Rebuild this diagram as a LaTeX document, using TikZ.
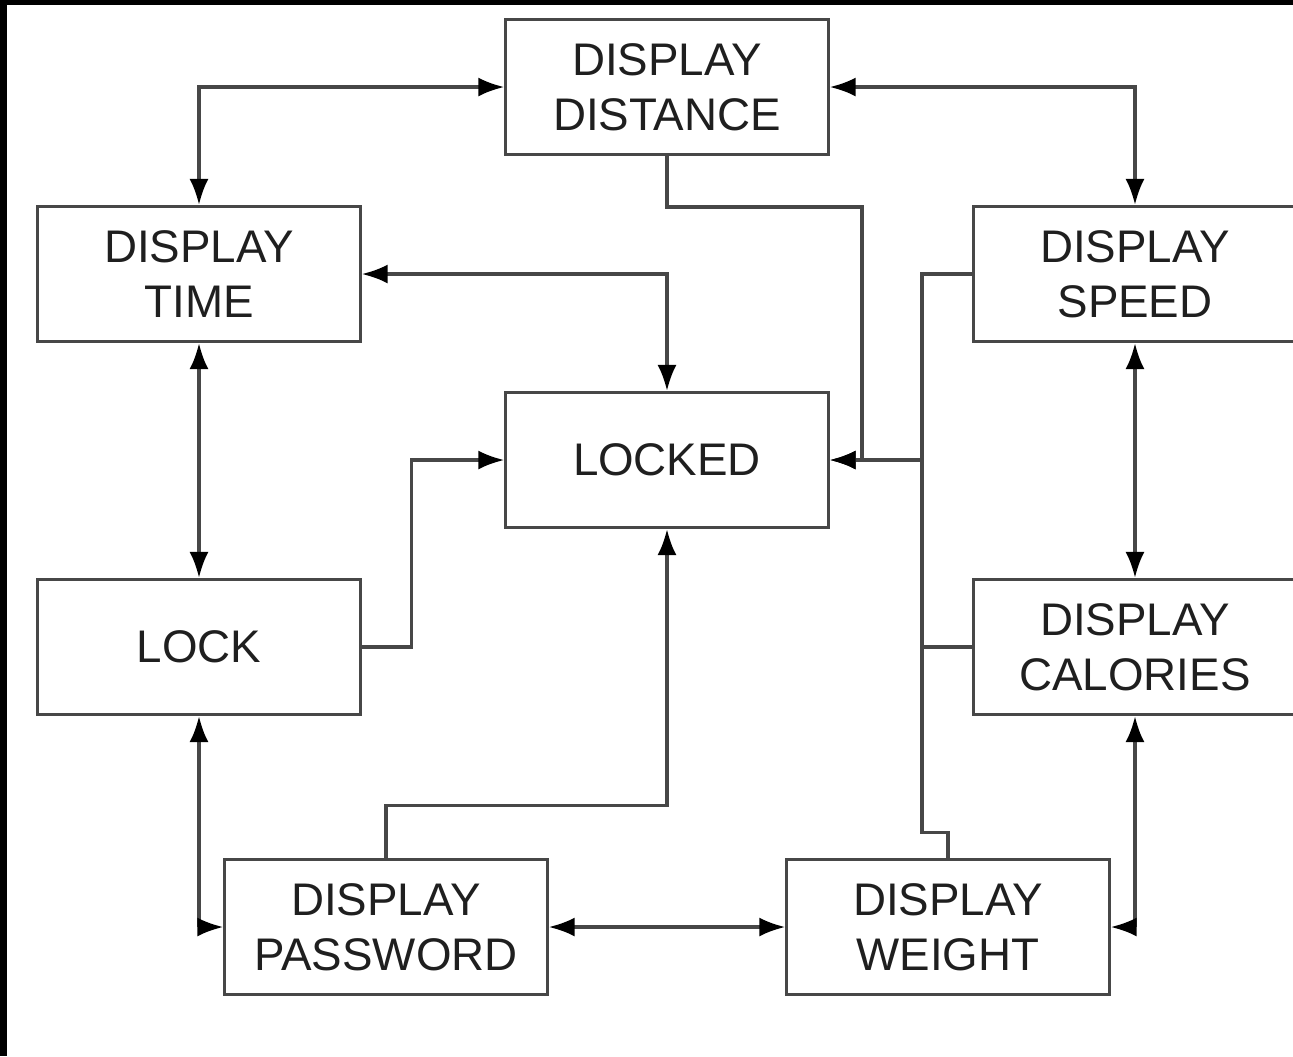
\documentclass[tikz,border=0pt]{standalone}
\usepackage{fontspec}
\setmainfont{Liberation Sans}
\usetikzlibrary{arrows.meta}
\newcommand\colorLine{black!72}
\newcommand\colorText{black!88}
\newcommand\boxWidth{3.22cm}
\newcommand\boxHeight{1.35cm}

\begin{document}
\begin{tikzpicture}[x=0.01cm,y=-0.01cm,
	state/.style={draw=\colorLine, line width=0.9pt, fill=white, text=\colorText,
		minimum width=\boxWidth, minimum height=\boxHeight, align=center,
		inner sep=0pt, font=\fontsize{13}{15.5}\selectfont},
	link/.style={draw=\colorLine, line width=0.9pt},
	arr/.style={link, -{Latex[length=0.26cm,width=0.19cm,color=black]}},
	both/.style={link, {Latex[length=0.26cm,width=0.19cm,color=black]}-{Latex[length=0.26cm,width=0.19cm,color=black]}}]
	\useasboundingbox (0,0) rectangle (1293,1056);
	\fill[black] (0,0) rectangle (1293,1056);
	\fill[white] (7,5) rectangle (1293,1056);
	
	% states
	\node[state] (dist)   at (667,87)   {DISPLAY\\DISTANCE};
	\node[state] (time)   at (199,274)  {DISPLAY\\TIME};
	\node[state] (speed)  at (1135,274) {DISPLAY\\SPEED};
	\node[state] (locked) at (667,460)  {LOCKED};
	\node[state] (lock)   at (199,647)  {LOCK};
	\node[state] (cal)    at (1135,647) {DISPLAY\\CALORIES};
	\node[state] (pass)   at (386,927)  {DISPLAY\\PASSWORD};
	\node[state] (weight) at (948,927)  {DISPLAY\\WEIGHT};
	
	\coordinate (dbend) at (862,207);
	\coordinate (bus) at (922,460);
	
	% transitions
	\draw[both] (time.north) |- (dist.west);
	\draw[both] (dist.east) -| (speed.north);
	\draw[arr] (dist.south) |- (dbend) |- (locked.east);
	\draw[both] (time.east) -| (locked.north);
	\draw[both] (time.south) -- (lock.north);
	\draw[arr] (lock.east) -- ++(50,0) |- (locked.west);
	\draw[both] (lock.south) |- (pass.west);
	\draw[arr] (pass.north) -- ++(0,-52) -| (locked.south);
	\draw[both] (pass.east) -- (weight.west);
	\draw[both] (speed.south) -- (cal.north);
	\draw[both] (cal.south) |- (weight.east);
	\draw[link] (speed.west) -| (bus);
	\draw[link] (cal.west) -| (bus);
	\draw[link] (weight.north) |- ++(-26,-25) -- (bus);
	\draw[arr] (bus) -- (locked.east);
\end{tikzpicture}
\end{document}
